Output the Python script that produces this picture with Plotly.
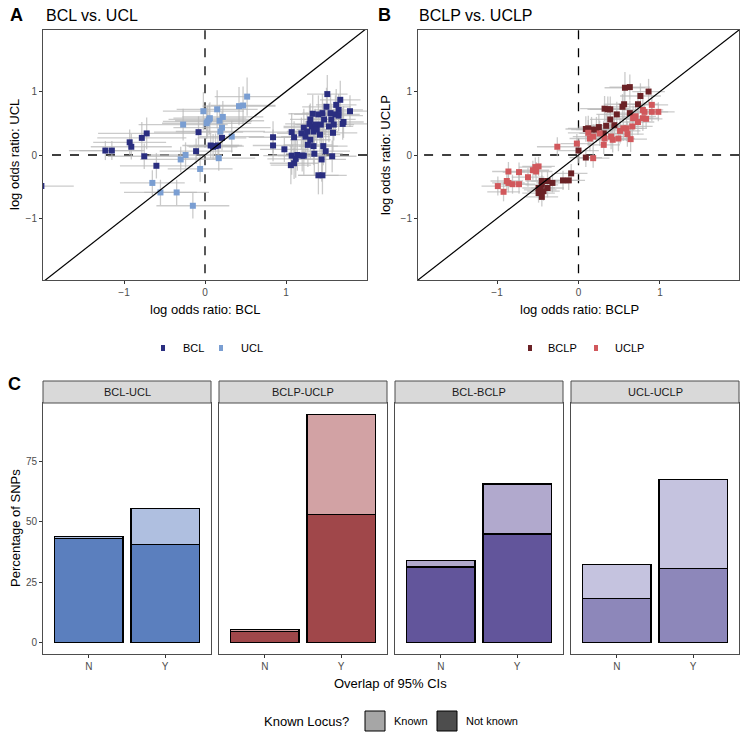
import plotly.graph_objects as go

W, H = 747, 740
def px(x): return x / W
def py(y): return 1 - y / H

# ---------------- Data: panel A (BCL vs UCL) ----------------
bcl_x = [-2.02, -1.23, -1.15, -0.93, -0.91, -0.78, -0.72, -0.75, -0.60, -0.08, -0.11, 0.07, 0.13, 0.16, 0.21, 0.10,
         0.84, 0.84, 0.98, 1.07, 1.10, 1.07, 1.06, 1.10, 1.12, 1.14, 1.20, 1.22, 1.19, 1.22, 1.24, 1.26, 1.29, 1.30,
         1.33, 1.32, 1.34, 1.36, 1.27, 1.30, 1.34, 1.35, 1.38, 1.40, 1.40, 1.45, 1.44, 1.42, 1.43, 1.45, 1.46, 1.49,
         1.47, 1.50, 1.51, 1.53, 1.55, 1.56, 1.58, 1.57, 1.59, 1.61, 1.62, 1.65, 1.67, 1.70, 1.71, 1.79, 1.65]
bcl_y = [-0.49, 0.07, 0.07, 0.20, 0.13, 0.27, 0.34, -0.02, -0.17, 0.36, 0.06, 0.15, 0.14, 0.15, 0.27, 0.13,
         0.28, 0.15, 0.09, 0.36, 0.28, -0.01, -0.16, -0.13, -0.06, 0.00, -0.01, -0.01, 0.34, 0.43, 0.29, 0.37, 0.49, 0.56,
         0.65, 0.45, 0.37, 0.48, 0.16, 0.24, 0.14, 0.02, 0.40, 0.64, -0.32, -0.32, -0.07, 0.32, 0.48, 0.66, 0.14, 0.06,
         0.56, 0.76, 0.96, 0.45, 0.66, 0.56, 0.35, -0.02, 0.48, 0.64, 0.79, 0.62, 0.87, 0.49, 0.52, 0.69, 0.71]
bcl_xerr = [0.40, 0.45, 0.40, 0.45, 0.50, 0.55, 0.60, 0.45, 0.45, 0.55, 0.45, 0.35, 0.35, 0.30, 0.30, 0.30,
            0.30, 0.25, 0.30, 0.35, 0.30, 0.35, 0.25, 0.30, 0.35, 0.30, 0.30, 0.25, 0.30, 0.25, 0.30, 0.25, 0.30, 0.25,
            0.30, 0.35, 0.30, 0.25, 0.30, 0.25, 0.30, 0.35, 0.25, 0.30, 0.25, 0.30, 0.30, 0.25, 0.30, 0.25, 0.30, 0.30,
            0.25, 0.30, 0.25, 0.30, 0.25, 0.30, 0.30, 0.30, 0.25, 0.30, 0.25, 0.30, 0.25, 0.30, 0.25, 0.25, 0.30]
bcl_yerr = [0.30, 0.15, 0.15, 0.20, 0.20, 0.25, 0.25, 0.20, 0.20, 0.25, 0.20, 0.20, 0.20, 0.20, 0.20, 0.20,
            0.25, 0.25, 0.20, 0.30, 0.25, 0.30, 0.30, 0.25, 0.30, 0.25, 0.25, 0.30, 0.25, 0.30, 0.25, 0.30, 0.30, 0.25,
            0.30, 0.25, 0.30, 0.25, 0.35, 0.30, 0.30, 0.35, 0.25, 0.30, 0.30, 0.30, 0.35, 0.30, 0.25, 0.30, 0.30, 0.35,
            0.25, 0.30, 0.30, 0.25, 0.30, 0.25, 0.30, 0.25, 0.25, 0.30, 0.25, 0.25, 0.30, 0.25, 0.25, 0.25, 0.25]

ucl_x = [-0.27, -0.24, -0.30, -0.65, -0.55, -0.35, -0.15, -0.06, -0.02, 0.02, 0.05, 0.06, 0.03, 0.15, 0.18, 0.22,
         0.21, 0.19, 0.17, 0.33, 0.42, 0.47, 0.52]
ucl_y = [0.48, 0.00, -0.07, -0.44, -0.59, -0.59, -0.80, -0.22, 0.69, 0.50, 0.56, 0.58, 0.53, 0.72, 0.54, 0.60,
         0.43, 0.37, -0.05, 0.29, 0.77, 0.78, 0.92]
ucl_xerr = [0.55, 0.45, 0.50, 0.40, 0.45, 0.40, 0.45, 0.40, 0.50, 0.55, 0.50, 0.45, 0.55, 0.50, 0.55, 0.50,
            0.60, 0.55, 0.45, 0.40, 0.45, 0.40, 0.40]
ucl_yerr = [0.25, 0.20, 0.20, 0.20, 0.20, 0.20, 0.20, 0.20, 0.30, 0.25, 0.25, 0.25, 0.25, 0.30, 0.25, 0.25,
            0.25, 0.25, 0.20, 0.25, 0.30, 0.30, 0.30]

# ---------------- Data: panel B (BCLP vs UCLP) ----------------
bclp_x = [0.57, 0.63, 0.86, 0.76, 0.73, 0.56, 0.54, 0.32, 0.36, 0.39, 0.47, 0.63, 0.39, 0.44, 0.34, 0.25, 0.22,
          0.16, 0.09, 0.12, 0.31, 0.00, 0.09, -0.09, -0.12, -0.19, -0.32, -0.38, -0.38, -0.45, -0.45, -0.49, -0.47,
          -0.49, -0.45, -0.43]
bclp_y = [1.06, 1.07, 1.00, 0.93, 0.80, 0.80, 0.76, 0.73, 0.72, 0.72, 0.64, 0.66, 0.56, 0.47, 0.46, 0.44, 0.40,
          0.40, 0.41, 0.42, 0.34, 0.07, -0.04, -0.29, -0.40, -0.40, -0.44, -0.41, -0.52, -0.41, -0.47, -0.52, -0.55,
          -0.60, -0.66, -0.57]
bclp_xerr = [0.25, 0.25, 0.20, 0.25, 0.25, 0.25, 0.25, 0.30, 0.25, 0.25, 0.25, 0.25, 0.25, 0.25, 0.25, 0.25, 0.25,
             0.25, 0.25, 0.25, 0.25, 0.25, 0.20, 0.20, 0.20, 0.20, 0.20, 0.20, 0.20, 0.20, 0.20, 0.20, 0.20,
             0.20, 0.20, 0.20]
bclp_yerr = [0.25, 0.20, 0.20, 0.20, 0.20, 0.25, 0.20, 0.20, 0.20, 0.20, 0.20, 0.20, 0.20, 0.20, 0.20, 0.20, 0.20,
             0.20, 0.20, 0.20, 0.20, 0.20, 0.15, 0.15, 0.15, 0.15, 0.15, 0.15, 0.15, 0.15, 0.15, 0.15, 0.15,
             0.15, 0.15, 0.15]

uclp_x = [0.90, 0.98, 0.90, 0.79, 0.81, 0.70, 0.67, 0.73, 0.79, 0.83, 0.66, 0.59, 0.55, 0.51, 0.60, 0.64, 0.49,
          0.42, 0.40, 0.32, 0.31, 0.26, 0.18, 0.14, 0.12, -0.02, -0.26, 0.18, -0.53, -0.49, -0.56, -0.52, -0.73,
          -0.86, -0.62, -0.88, -0.86, -0.81, -0.73, -0.99, -0.92]
uclp_y = [0.79, 0.68, 0.68, 0.71, 0.68, 0.61, 0.58, 0.52, 0.58, 0.57, 0.45, 0.42, 0.42, 0.38, 0.33, 0.25, 0.26,
          0.24, 0.29, 0.26, 0.16, 0.34, 0.29, 0.26, 0.35, 0.18, 0.13, -0.05, -0.19, -0.18, -0.24, -0.26, -0.27,
          -0.26, -0.35, -0.41, -0.44, -0.46, -0.46, -0.49, -0.58]
uclp_xerr = [0.20, 0.20, 0.20, 0.25, 0.20, 0.25, 0.25, 0.20, 0.20, 0.20, 0.25, 0.25, 0.25, 0.25, 0.20, 0.20, 0.20,
             0.20, 0.25, 0.20, 0.20, 0.25, 0.25, 0.25, 0.25, 0.20, 0.25, 0.20, 0.20, 0.20, 0.20, 0.20, 0.20,
             0.20, 0.20, 0.20, 0.20, 0.20, 0.20, 0.20, 0.20]
uclp_yerr = [0.15, 0.15, 0.15, 0.20, 0.15, 0.20, 0.20, 0.20, 0.20, 0.15, 0.20, 0.20, 0.20, 0.20, 0.20, 0.20, 0.20,
             0.20, 0.20, 0.15, 0.15, 0.20, 0.20, 0.20, 0.20, 0.15, 0.15, 0.15, 0.15, 0.15, 0.15, 0.15, 0.15,
             0.15, 0.15, 0.15, 0.15, 0.15, 0.15, 0.15, 0.15]

# ---------------- Data: panel C (bars) ----------------
comparisons = ["BCL-UCL", "BCLP-UCLP", "BCL-BCLP", "UCL-UCLP"]
overlap = ["N", "Y"]
not_known = [[43.1, 40.6], [4.6, 53.0], [31.3, 45.0], [18.2, 30.6]]
known = [[0.8, 15.0], [0.8, 41.6], [2.6, 20.8], [14.2, 37.0]]
dark_cols = ["#5B7FBE", "#A0474A", "#62559B", "#8D87BA"]
light_cols = ["#AFBFE0", "#D2A2A4", "#B1A9CD", "#C5C3DF"]

COL_BCL, COL_UCL = "#2A2E80", "#7A9ED2"
COL_BCLP, COL_UCLP = "#6B2226", "#D1585C"
ERR_COL = "rgba(185,185,185,0.75)"

fig = go.Figure()

def err_trace(x, y, xe, ye, xa, ya):
    return go.Scatter(x=x, y=y, mode="markers", marker=dict(size=1, opacity=0),
                      error_x=dict(type="data", array=xe, color=ERR_COL, thickness=1.3, width=0),
                      error_y=dict(type="data", array=ye, color=ERR_COL, thickness=1.3, width=0),
                      xaxis=xa, yaxis=ya, showlegend=False, hoverinfo="skip")

def pt_trace(x, y, col, name, xa, ya):
    return go.Scatter(x=x, y=y, mode="markers", name=name,
                      marker=dict(symbol="square", size=6, color=col),
                      xaxis=xa, yaxis=ya, showlegend=False)

fig.add_trace(err_trace(bcl_x, bcl_y, bcl_xerr, bcl_yerr, "x", "y"))
fig.add_trace(err_trace(ucl_x, ucl_y, ucl_xerr, ucl_yerr, "x", "y"))
fig.add_trace(pt_trace(bcl_x, bcl_y, COL_BCL, "BCL", "x", "y"))
fig.add_trace(pt_trace(ucl_x, ucl_y, COL_UCL, "UCL", "x", "y"))

fig.add_trace(err_trace(bclp_x, bclp_y, bclp_xerr, bclp_yerr, "x2", "y2"))
fig.add_trace(err_trace(uclp_x, uclp_y, uclp_xerr, uclp_yerr, "x2", "y2"))
fig.add_trace(pt_trace(bclp_x, bclp_y, COL_BCLP, "BCLP", "x2", "y2"))
fig.add_trace(pt_trace(uclp_x, uclp_y, COL_UCLP, "UCLP", "x2", "y2"))

for i, comp in enumerate(comparisons):
    xa, ya = "x%d" % (i + 3), "y%d" % (i + 3)
    fig.add_trace(go.Bar(x=overlap, y=not_known[i], width=0.9, name="Not known",
                         marker=dict(color=dark_cols[i], line=dict(color="black", width=1.4)),
                         xaxis=xa, yaxis=ya, showlegend=False))
    fig.add_trace(go.Bar(x=overlap, y=known[i], width=0.9, name="Known",
                         marker=dict(color=light_cols[i], line=dict(color="black", width=1.4)),
                         xaxis=xa, yaxis=ya, showlegend=False))

AX_LINE = "#4D4D4D"
TICKF = dict(family="Liberation Sans, Arial, sans-serif", size=10, color="#4D4D4D")
common = dict(showline=True, mirror=True, linecolor=AX_LINE, linewidth=1, showgrid=False, zeroline=False,
              ticks="outside", ticklen=3, tickcolor="#333333", tickfont=TICKF)

sc_ydom = [py(280), py(30)]
layout = dict(
    width=W, height=H, margin=dict(l=0, r=0, t=0, b=0),
    paper_bgcolor="white", plot_bgcolor="white", barmode="stack", bargap=0.1,
    font=dict(family="Liberation Sans, Arial, sans-serif", color="black"),
    xaxis=dict(domain=[px(43), px(367)], range=[-2.0, 2.0], tickvals=[-1, 0, 1], anchor="y", **common),
    yaxis=dict(domain=sc_ydom, range=[-1.97, 1.97], tickvals=[-1, 0, 1], anchor="x", **common),
    xaxis2=dict(domain=[px(418), px(739)], range=[-1.97, 1.97], tickvals=[-1, 0, 1], anchor="y2", **common),
    yaxis2=dict(domain=sc_ydom, range=[-1.97, 1.97], tickvals=[-1, 0, 1], anchor="x2", **common),
)
bar_lefts = [43, 219, 395, 571]
bar_w = 168
bar_ydom = [py(654), py(403)]
for i in range(4):
    n = i + 3
    layout["xaxis%d" % n] = dict(domain=[px(bar_lefts[i]), px(bar_lefts[i] + bar_w)], range=[-0.6, 1.6],
                                 type="category", anchor="y%d" % n, **common)
    layout["yaxis%d" % n] = dict(domain=bar_ydom, range=[-4.73, 99.3], tickvals=[0, 25, 50, 75],
                                 showticklabels=(i == 0), anchor="x%d" % n,
                                 **{k: v for k, v in common.items() if k not in ("ticks",)},
                                 ticks="outside" if i == 0 else "")
fig.update_layout(**layout)

shapes = []
# reference lines in scatter panels
for xa, ya in (("x", "y"), ("x2", "y2")):
    shapes.append(dict(type="line", xref=xa, yref=ya, x0=-3, y0=-3, x1=3, y1=3,
                       line=dict(color="black", width=1.2), layer="above"))
    shapes.append(dict(type="line", xref=xa, yref=ya, x0=0, y0=-3, x1=0, y1=3,
                       line=dict(color="black", width=1.3, dash="dash"), layer="below"))
    shapes.append(dict(type="line", xref=xa, yref=ya, x0=-3, y0=0, x1=3, y1=0,
                       line=dict(color="black", width=1.3, dash="dash"), layer="below"))

# strips
annotations = []
for i, comp in enumerate(comparisons):
    l = bar_lefts[i]
    shapes.append(dict(type="rect", xref="paper", yref="paper", x0=px(l), x1=px(l + bar_w), y0=py(403), y1=py(381),
                       fillcolor="#D9D9D9", line=dict(color=AX_LINE, width=1)))
    annotations.append(dict(text=comp, x=px(l + bar_w / 2), y=py(392), xref="paper", yref="paper",
                            showarrow=False, font=dict(size=11, color="#1A1A1A"), xanchor="center", yanchor="middle"))

# scatter legends (keys)
def key(xc, yc, col, w=4, h=6):
    shapes.append(dict(type="rect", xref="paper", yref="paper", x0=px(xc - w / 2), x1=px(xc + w / 2),
                       y0=py(yc + h / 2), y1=py(yc - h / 2), fillcolor=col, line=dict(width=0)))

def txt(s, x, y, size, xanchor="left", bold=False, color="black", angle=0):
    annotations.append(dict(text=("<b>%s</b>" % s) if bold else s, x=px(x), y=py(y), xref="paper", yref="paper",
                            showarrow=False, xanchor=xanchor, yanchor="middle", textangle=angle,
                            font=dict(size=size, color=color)))

key(163, 348, COL_BCL); txt("BCL", 181, 348, 11)
key(221, 348, COL_UCL); txt("UCL", 239, 348, 11)
key(530, 348, COL_BCLP); txt("BCLP", 546, 348, 11)
key(596, 348, COL_UCLP); txt("UCLP", 613, 348, 11)

# bar legend
txt("Known Locus?", 262, 721, 13)
shapes.append(dict(type="rect", xref="paper", yref="paper", x0=px(365), x1=px(385), y0=py(731), y1=py(711),
                   fillcolor="#A6A6A6", line=dict(color="black", width=1)))
txt("Known", 392, 721, 11)
shapes.append(dict(type="rect", xref="paper", yref="paper", x0=px(437), x1=px(457), y0=py(731), y1=py(711),
                   fillcolor="#4D4D4D", line=dict(color="black", width=1)))
txt("Not known", 464, 721, 11)

# titles
txt("A", 8, 15, 18, bold=True)
txt("BCL vs. UCL", 44, 15, 16)
txt("B", 376, 15, 18, bold=True)
txt("BCLP vs. UCLP", 417, 15, 16)
txt("C", 6, 384, 18, bold=True)

# axis titles
txt("log odds ratio: BCL", 205, 310, 13, xanchor="center")
txt("log odds ratio: BCLP", 579, 310, 13, xanchor="center")
txt("log odds ratio: UCL", 15, 155, 13, xanchor="center", angle=-90)
txt("log odds ratio: UCLP", 386, 155, 13, xanchor="center", angle=-90)
txt("Percentage of SNPs", 15, 528, 13, xanchor="center", angle=-90)
txt("Overlap of 95% CIs", 391, 683, 13, xanchor="center")

fig.update_layout(shapes=shapes, annotations=annotations)
fig.write_html("out.html", config={"displayModeBar": False},
               post_script="document.body.style.margin='0px';")
